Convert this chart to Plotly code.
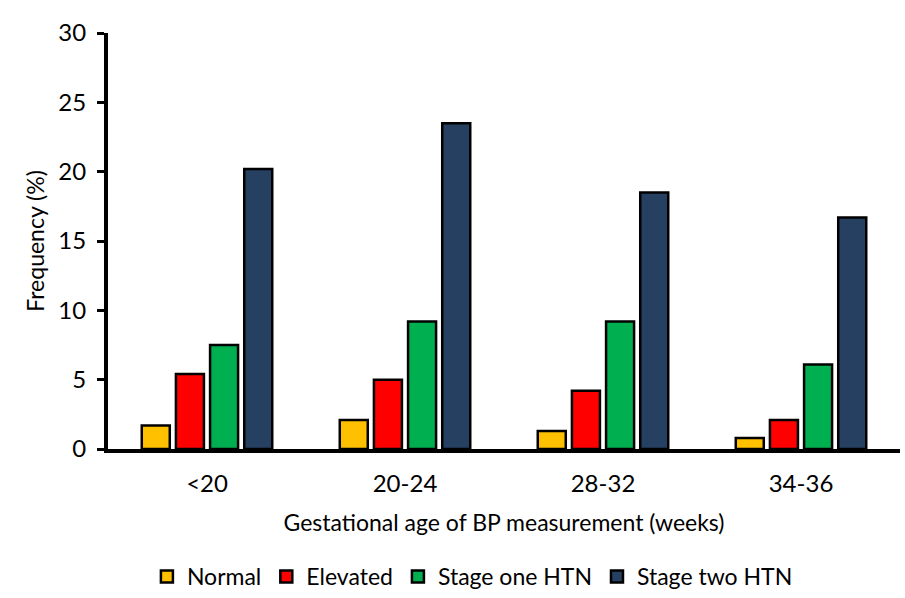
import plotly.graph_objects as go

categories = ["<20", "20-24", "28-32", "34-36"]
series_names = ["Normal", "Elevated", "Stage one HTN", "Stage two HTN"]
normal = [1.7, 2.1, 1.3, 0.8]
elevated = [5.4, 5.0, 4.2, 2.1]
stage_one = [7.5, 9.2, 9.2, 6.1]
stage_two = [20.2, 23.5, 18.5, 16.7]
colors = ["#FFC000", "#FF0000", "#00B050", "#254061"]
y_ticks = [0, 5, 10, 15, 20, 25, 30]

font_family = "Lato, 'Open Sans', sans-serif"

fig = go.Figure()
for name, vals, col in zip(series_names, [normal, elevated, stage_one, stage_two], colors):
    fig.add_trace(go.Bar(
        x=categories, y=vals, name=name,
        marker=dict(color=col, line=dict(color="black", width=2.5)),
    ))

fig.update_layout(
    width=905, height=598,
    margin=dict(l=108, r=5, t=33, b=149, autoexpand=False),
    paper_bgcolor="white", plot_bgcolor="white",
    barmode="group", bargap=0.31, bargroupgap=0.18,
    font=dict(family=font_family, color="black", size=24),
    showlegend=True,
    legend=dict(orientation="h", xref="container", yref="container",
                x=0.522, xanchor="center", y=0.0, yanchor="bottom",
                font=dict(size=23), itemwidth=30, tracegroupgap=0,
                traceorder="normal"),
    xaxis=dict(
        automargin=False,
        showline=True, linecolor="black", linewidth=4,
        ticks="", tickfont=dict(size=24), ticklabelstandoff=10,
        title=dict(text="Gestational age of BP measurement (weeks)", font=dict(size=23), standoff=20),
        showgrid=False, zeroline=False,
    ),
    yaxis=dict(
        automargin=False,
        range=[0, 30], tickvals=y_ticks,
        showline=True, linecolor="black", linewidth=4,
        ticks="outside", ticklen=7, tickwidth=3, tickcolor="black",
        tickfont=dict(size=24), ticklabelstandoff=6,
        title=dict(text="Frequency (%)", font=dict(size=23), standoff=8),
        showgrid=False, zeroline=False,
    ),
)

fig.write_html("out.html")
